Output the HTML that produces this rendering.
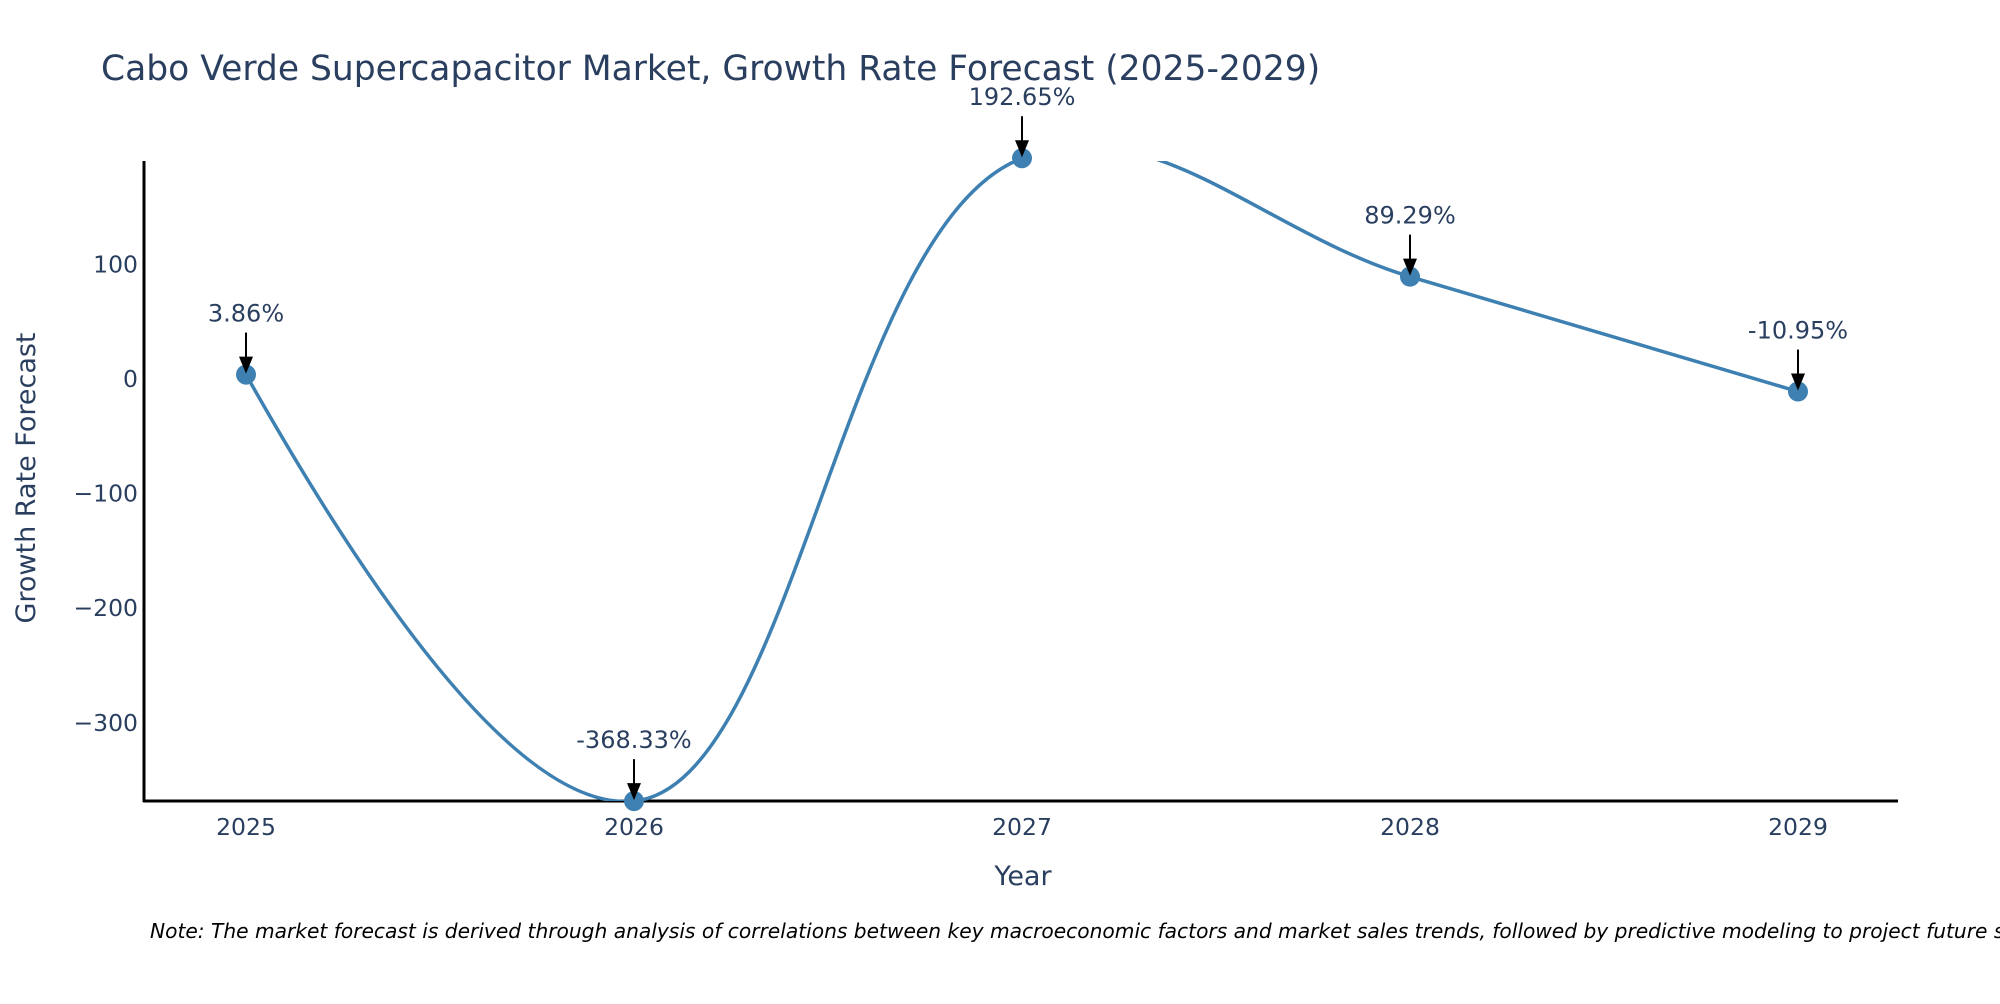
<!DOCTYPE html>
<html><head><meta charset="utf-8"><style>
body{margin:0;background:#fff;font-family:"DejaVu Sans",sans-serif;}
svg text{font-family:"DejaVu Sans",sans-serif;fill:#2a3f5f;}
</style></head><body>
<svg width="2000" height="1000">
<defs><clipPath id="pc"><rect x="144" y="161" width="1754" height="640"/></clipPath></defs>
<text x="101" y="80" font-size="34.5">Cabo Verde Supercapacitor Market, Growth Rate Forecast (2025-2029)</text>
<g id="yt"></g>
<g id="xt"></g>
<line x1="144" y1="161" x2="144" y2="802" stroke="#000" stroke-width="3"/>
<line x1="143" y1="801" x2="1898" y2="801" stroke="#000" stroke-width="3"/>
<g clip-path="url(#pc)"><path id="line" fill="none" stroke="#3d80b1" stroke-width="3.5"/></g>
<g id="pts"></g>
<g id="ann"></g>
<text x="1023" y="885" font-size="27" text-anchor="middle">Year</text>
<text transform="translate(35,478) rotate(-90)" font-size="27" text-anchor="middle">Growth Rate Forecast</text>
<text x="150" y="938" font-size="20.2" font-style="italic" style="fill:#000">Note: The market forecast is derived through analysis of correlations between key macroeconomic factors and market sales trends, followed by predictive modeling to project future sales.</text>
</svg>
<script>
const years=[2025,2026,2027,2028,2029];
const values=[3.86,-368.33,192.65,89.29,-10.95];
const labels=["3.86%","-368.33%","192.65%","89.29%","-10.95%"];
const yTicks=[100,0,-100,-200,-300];
const ns="http://www.w3.org/2000/svg";
const X=v=>246+(v-2025)*388;
const Y=v=>379-v*1.146;
function mk(t,a,p){const e=document.createElementNS(ns,t);for(const k in a)e.setAttribute(k,a[k]);p.appendChild(e);return e;}
const yt=document.getElementById('yt'),xt=document.getElementById('xt');
yTicks.forEach(v=>{const t=mk('text',{x:138,y:Y(v)+8,'font-size':23.5,'text-anchor':'end'},yt);t.textContent=(v<0?'\u2212'+(-v):v);

});
years.forEach(v=>{const t=mk('text',{x:X(v),y:835,'font-size':23.5,'text-anchor':'middle'},xt);t.textContent=v;

});
const P=years.map((y,i)=>[X(y),Y(values[i])]);
function tang(a,b,c,s){const d1x=a[0]-b[0],d1y=a[1]-b[1],d2x=c[0]-b[0],d2y=c[1]-b[1];
const d1a=Math.pow(d1x*d1x+d1y*d1y,0.25),d2a=Math.pow(d2x*d2x+d2y*d2y,0.25);
const nx=(d2a*d2a*d1x-d1a*d1a*d2x)*s,ny=(d2a*d2a*d1y-d1a*d1a*d2y)*s;
const e1=3*d2a*(d1a+d2a),e2=3*d1a*(d1a+d2a);
return [[b[0]+nx/e1,b[1]+ny/e1],[b[0]-nx/e2,b[1]-ny/e2]];}
const T=[];for(let i=1;i<P.length-1;i++)T.push(tang(P[i-1],P[i],P[i+1],1.15));
let d='M'+P[0]+' Q'+T[0][0]+' '+P[1];
for(let i=2;i<P.length-1;i++)d+=' C'+T[i-2][1]+' '+T[i-1][0]+' '+P[i];
d+=' Q'+T[T.length-1][1]+' '+P[P.length-1];
document.getElementById('line').setAttribute('d',d);
const pts=document.getElementById('pts'),ann=document.getElementById('ann');
P.forEach((p,i)=>{const c=mk('circle',{cx:p[0],cy:p[1],r:10,fill:'#3d80b1'},pts);


const l=mk('line',{x1:p[0],y1:p[1]-42,x2:p[0],y2:p[1]-14,stroke:'#000','stroke-width':2},ann);


const h=mk('polygon',{points:(p[0]-7)+','+(p[1]-18)+' '+(p[0]+7)+','+(p[1]-18)+' '+p[0]+','+(p[1]-1),fill:'#000'},ann);


const t=mk('text',{x:p[0],y:p[1]-53,'font-size':24,'text-anchor':'middle'},ann);t.textContent=labels[i];

});
</script>
</body></html>
